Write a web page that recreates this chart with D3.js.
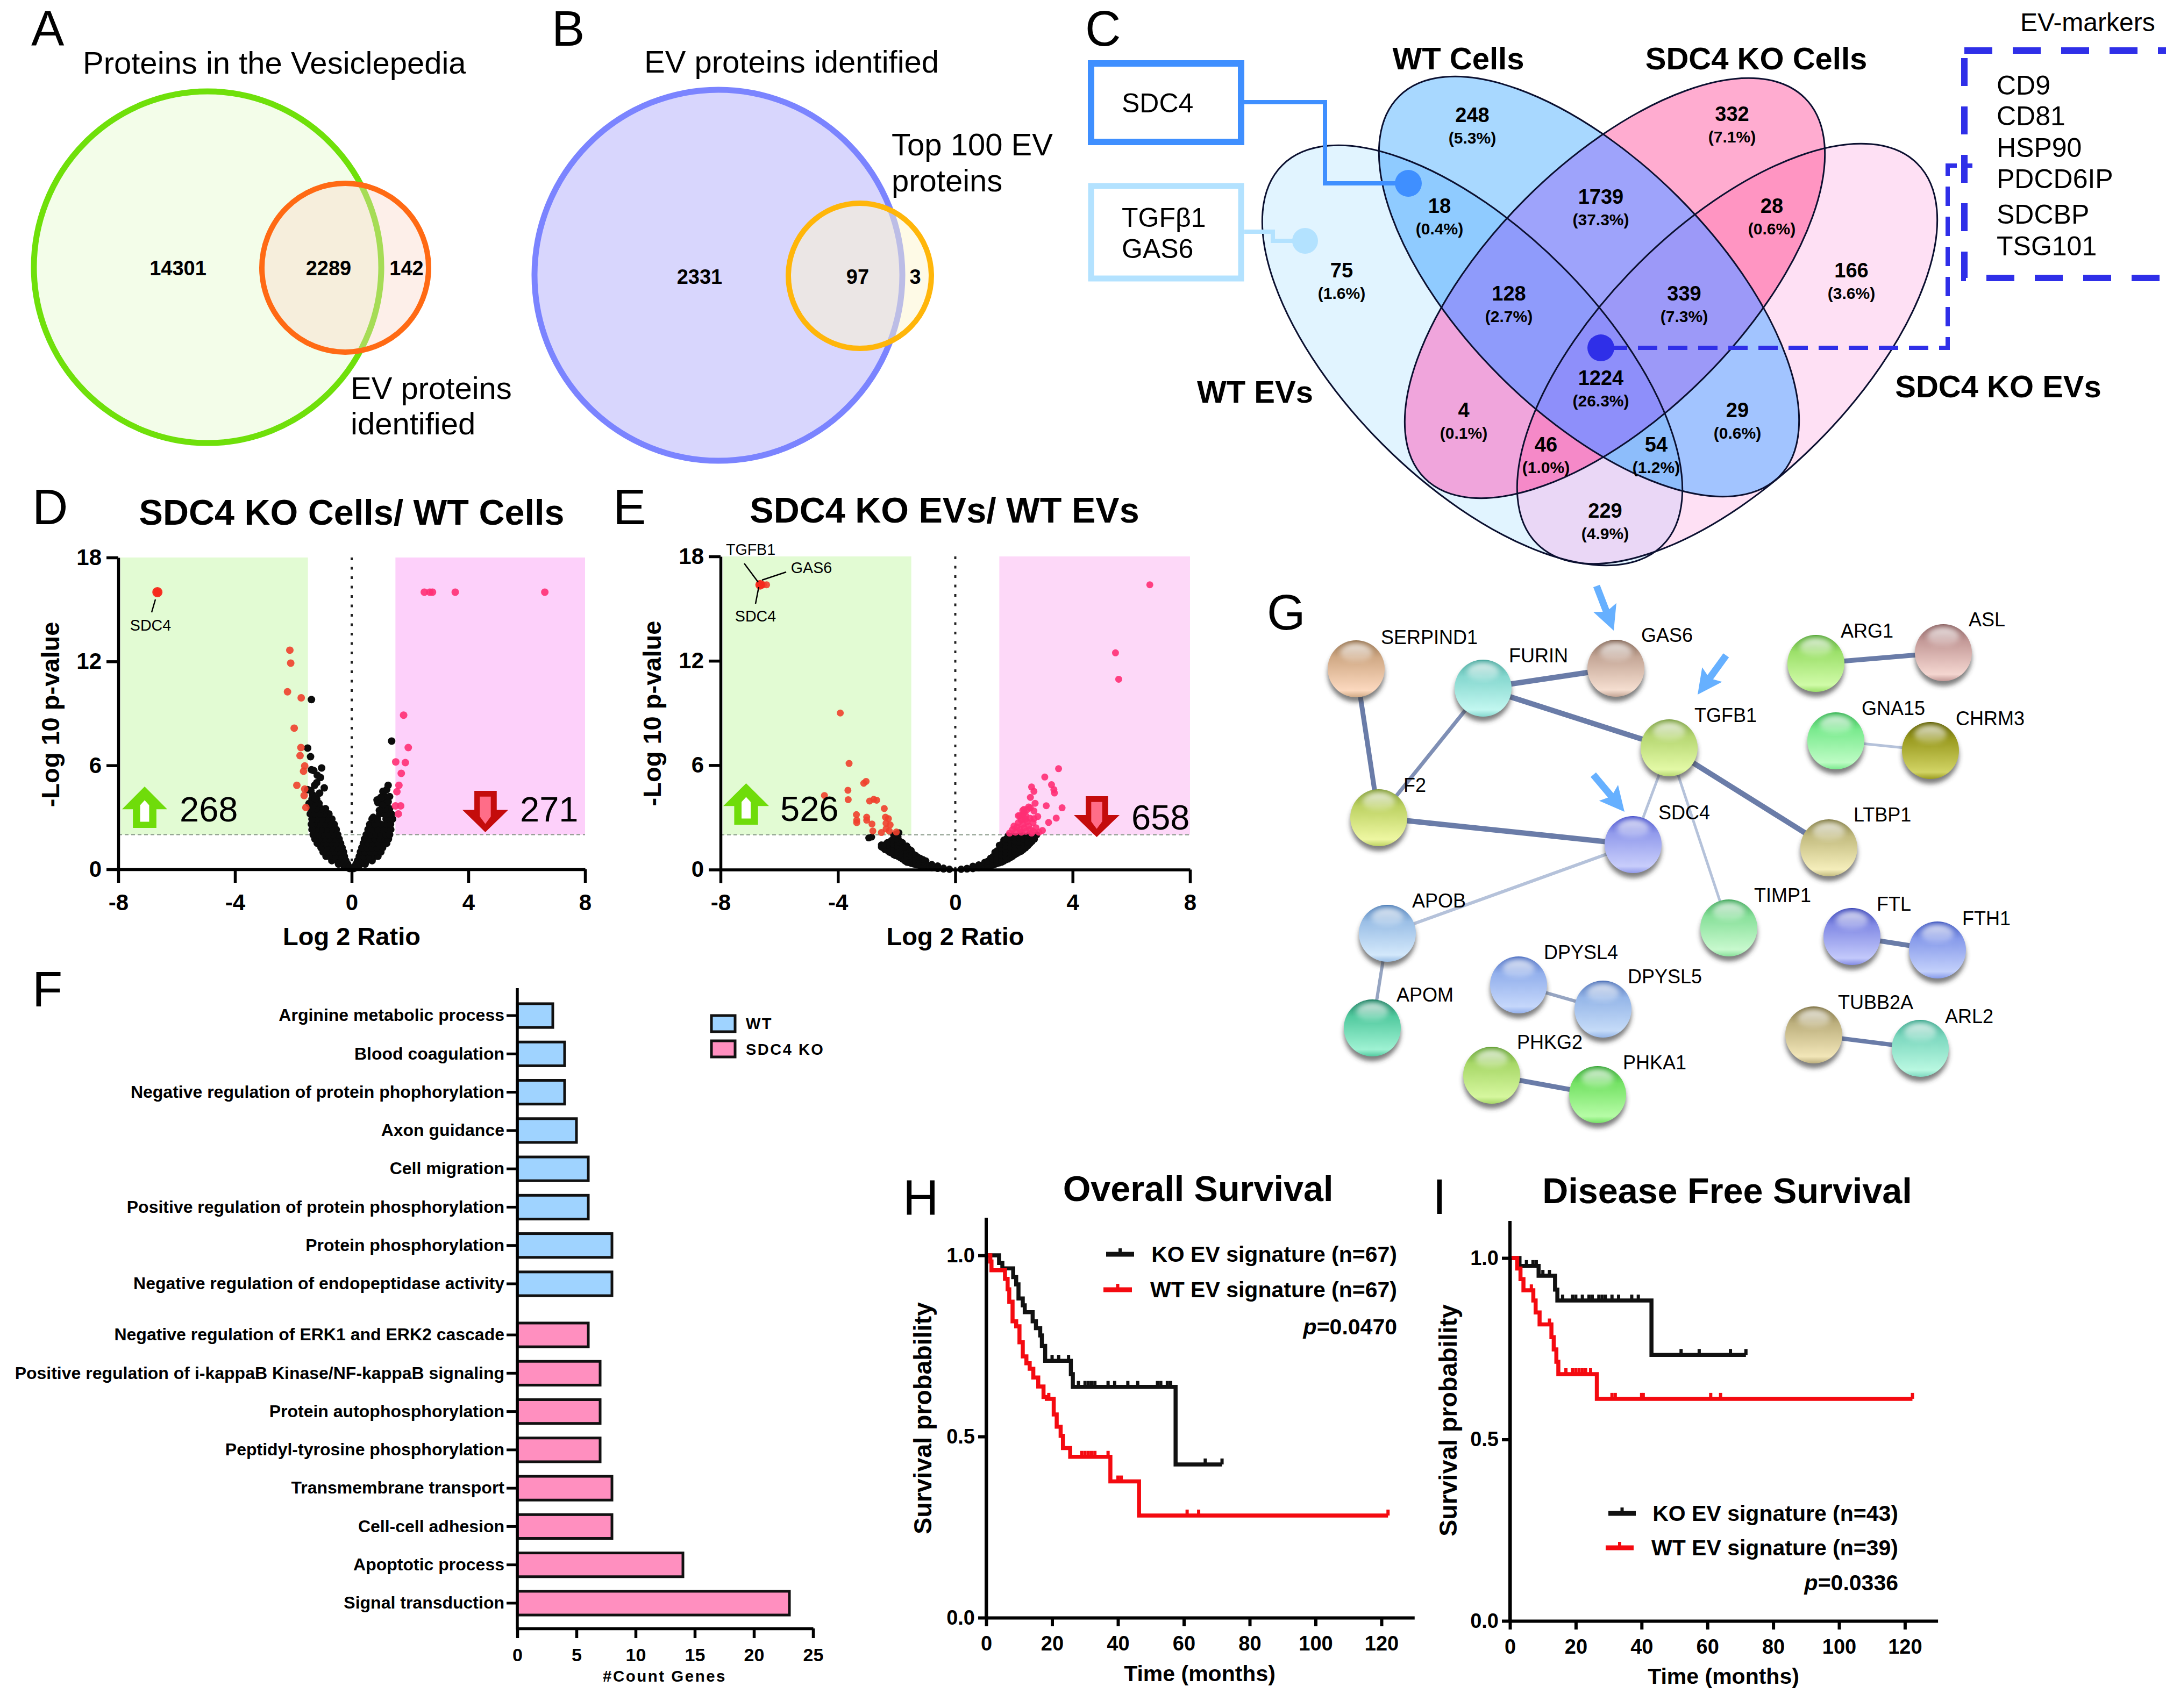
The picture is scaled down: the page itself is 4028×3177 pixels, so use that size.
<!DOCTYPE html>
<html><head><meta charset="utf-8">
<script src="https://cdn.jsdelivr.net/npm/d3@7"></script>
<style>
html,body{margin:0;padding:0;background:#fff}
svg{display:block}
text{font-family:"Liberation Sans",Arial,sans-serif;fill:#000}
</style></head><body><svg id="fig" width="4028" height="3177" viewBox="0 0 4028 3177"></svg>
<script>
/* ---------- Panel A / B ---------- */
const vennANumbers = ["14301","2289","142"];
const vennBNumbers = ["2331","97","3"];

/* ---------- Panel C ---------- */
const vennSetNames = ["WTE","KOE","WTC","KOC"];
const vennRegionColors = {
  "WTE":"#e1f4ff","KOE":"#fee0f4","WTC":"#a8d8ff","KOC":"#ffacd0",
  "WTC+KOC":"#9ea3fb","WTE+WTC":"#8fcbff","KOE+KOC":"#ff95c2","WTE+KOE":"#ead7f6",
  "WTE+KOC":"#f0a5dc","KOE+WTC":"#a2c4ff","WTE+WTC+KOC":"#8f9bfb","KOE+WTC+KOC":"#9c99f8",
  "WTE+KOE+KOC":"#f589c8","WTE+KOE+WTC":"#8dbdfb","WTE+KOE+WTC+KOC":"#8e8ffa"
};
const vennRegionCounts = ["248","332","18","1739","28","75","128","339","166","1224","4","29","46","54","229"];
const vennRegionPercents = ["(5.3%)","(7.1%)","(0.4%)","(37.3%)","(0.6%)","(1.6%)","(2.7%)","(7.3%)","(3.6%)","(26.3%)","(0.1%)","(0.6%)","(1.0%)","(1.2%)","(4.9%)"];
const evMarkers = ["CD9","CD81","HSP90","PDCD6IP","SDCBP","TSG101"];

/* ---------- Panel D : volcano, KO cells / WT cells ---------- */
const dBlackLeftRows = [
 [.05,-.08],[.15,-.1,-.25],[.3,-.14,-.3,-.45],[.5,-.2,-.35,-.5,-.68],[.75,-.25,-.4,-.58,-.78,-.88],
 [1,-.28,-.45,-.62,-.8,-.98],[1.25,-.33,-.5,-.68,-.86,-1.05],[1.5,-.38,-.55,-.72,-.9,-1.08,-1.18],
 [1.75,-.43,-.6,-.78,-.95,-1.12,-1.26],[2,-.48,-.65,-.82,-1,-1.16,-1.32],[2.3,-.53,-.7,-.88,-1.05,-1.22,-1.36],
 [2.6,-.6,-.78,-.94,-1.12,-1.3,-1.38],[2.9,-.68,-.85,-1.02,-1.2,-1.36],[3.2,-.78,-.95,-1.1,-1.28,-1.42],
 [3.5,-.9,-1.05,-1.22,-1.38],[3.8,-1.12,-1.28,-1.46],[4.05,-1.2,-1.36]];
const dBlackRightRows = [
 [.05,.08],[.15,.11,.24],[.3,.15,.3,.46],[.5,.2,.36,.52,.7],[.75,.26,.42,.6,.8,.9],
 [1,.3,.46,.64,.82,1],[1.25,.35,.52,.7,.88,1.06],[1.5,.4,.56,.74,.92,1.1,1.2],
 [1.75,.44,.62,.8,.98,1.14,1.26],[2,.5,.66,.84,1.02,1.18,1.3],[2.3,.56,.72,.9,1.1,1.24,1.34],
 [2.6,.62,.8,1.0,1.2,1.33],[2.9,.7,.88,1.18,1.3,1.4],[3.2,.96,1.1,1.2,1.36],[3.5,1.04,1.16,1.3],[3.8,1.2,1.1]];
const dBlackOutliers = [[-1.38,9.8],[-1.51,7],[-1.41,6.5],[-1.03,5.85],[-1.38,5.75],[-1.3,5.7],[-1.18,5.43],[-1.07,5.3],[-.94,4.7],
 [-1.27,4.85],[-1.51,4.6],[-1.34,4.3],[-1.2,5],[-1.1,4.4],[-1.25,4.1],[-1.4,4.55],[1.37,7.4],[1.25,4.85],[1.07,4.5],[1.2,4.6],[.87,4],[.9,3.85],[1.2,3.75],[1.14,3.5],[.74,3],
 [1.15,4.2],[1,4.15],[1.3,4.2],[1.25,3.9],[1.05,3.7],[.95,3.4]];
const dUp = [[-6.66,16],[-2.12,12.65],[-2.09,11.9],[-2.2,10.25],[-1.73,9.9],[-1.97,8.15],[-1.74,7.03],[-1.77,6.56],[-1.61,5.97],
 [-1.65,5.66],[-1.88,4.85],[-1.61,4.63],[-1.63,4.26],[-1.57,3.57]];
const dDown = [[2.49,16],[2.68,16],[2.77,16],[3.55,16],[6.62,16],[1.78,8.9],[1.94,7.03],[1.51,6.2],[1.84,6.16],[1.7,5.54],[1.62,4.85],
 [1.55,4.48],[1.5,3.66],[1.68,3.66],[1.6,3.2]];

/* ---------- Panel E : volcano, KO EVs / WT EVs ---------- */
const eBlackLeftCols = [
 [-.2,.01,.03],[-.4,.03,.09],[-.6,.06,.14,.22],[-.8,.1,.2,.3],[-1,.15,.27,.4,.5],[-1.2,.22,.36,.5,.66],[-1.35,.28,.45,.62,.82],
 [-1.5,.35,.52,.72,.92,1.1],[-1.65,.42,.6,.82,1.02,1.22,1.36],[-1.8,.6,.75,.95,1.15,1.35,1.55],[-1.95,.75,.9,1.1,1.3,1.5,1.7,1.88],
 [-2.1,.85,1,1.22,1.42,1.62,1.8,1.98],[-2.25,1,1.15,1.3,1.5],[-2.4,1.15,1.3,1.42],[-2.52,1.3,1.42],
 [-1.1,.2,.32,.45,.58],[-1.28,.26,.4,.56,.72],[-1.42,.32,.5,.68,.88],[-1.58,.4,.58,.78,.98,1.18],[-1.72,.5,.7,.9,1.1,1.3],[-1.88,.68,.85,1.02,1.22,1.42,1.62],
 [-2.03,.8,.95,1.15,1.35,1.55,1.75,1.95],[-2.18,.95,1.1,1.28,1.45,1.68],[-2.32,1.1,1.25,1.4,1.55],[-2.46,1.25,1.4]];
const eBlackRightCols = [
 [.2,.01,.03],[.4,.03,.08],[.6,.05,.12,.2],[.8,.1,.18,.28],[1,.15,.28,.42],[1.2,.22,.36,.52,.66],[1.35,.3,.48,.65,.85,1],
 [1.5,.38,.55,.75,.95,1.15,1.4],[1.65,.48,.68,.88,1.1,1.3,1.5,1.7],[1.8,.6,.8,1,1.2,1.4,1.6,1.8,1.95],[1.95,.75,.95,1.15,1.35,1.55,1.75,1.95],
 [2.1,.92,1.1,1.3,1.5,1.7,1.9],[2.25,1.05,1.25,1.45,1.65,1.85,2],[2.4,1.25,1.45,1.65,1.85],[2.55,1.5,1.7,1.85,2],[2.7,1.75,1.92],[2.78,2],
 [1.1,.18,.32,.48],[1.28,.25,.42,.6,.75],[1.42,.34,.52,.7,.9,1.08],[1.58,.42,.62,.82,1.02,1.22,1.45],[1.72,.55,.75,.95,1.15,1.35,1.55,1.75],[1.88,.68,.88,1.08,1.28,1.48,1.68,1.88],
 [2.03,.85,1.02,1.22,1.42,1.62,1.82],[2.18,1,1.18,1.38,1.58,1.78,1.95],[2.32,1.15,1.35,1.55,1.75,1.95],[2.48,1.38,1.58,1.78,1.95],[2.62,1.62,1.8,1.95]];
const eBlackOutliers = [[-2.95,1.82],[-2.85,1.87],[-2,2.05],[-1.92,2.12]];
const eUp = [[-6.65,16.37],[-6.54,16.37],[-6.43,16.37],[-3.92,9],[-3.62,6.1],[-3.12,4.96],[-3.04,5.07],[-3.66,4.56],[-4.46,4.26],[-3.65,4.02],
 [-2.92,3.94],[-2.78,4.04],[-2.68,3.99],[-2.42,3.51],[-3.37,3.16],[-3.36,2.84],[-3.36,2.7],[-3.02,3.01],[-3.02,2.84],[-2.84,2.62],[-2.38,3.01],
 [-2.28,2.93],[-2.36,2.66],[-2.22,2.57],[-2.36,2.34],[-2.52,2.13],[-2.81,2.22],[-2.01,2.16],[-2.25,2.22]];
const eDown = [[6.63,16.37],[5.46,12.46],[5.57,10.94],[3.52,5.8],[3.05,5.32],[3.28,4.88],[2.6,4.75],[2.68,4.5],[3.36,4.6],[3.38,4.4],[2.56,4.15],
 [2.72,3.81],[3.1,3.67],[3.64,3.55],[2.56,3.55],[2.68,3.37],[2.34,3.46],[2.81,3.05],[2.68,2.93],[3.44,2.96],[3.18,2.71],[2.97,2.25],
 [1.85,2.1],[1.95,2.3],[2.05,2.15],[2.1,2.45],[2.2,2.3],[2.25,2.15],[2.3,2.6],[2.35,2.4],[2.4,2.2],[2.45,2.75],[2.5,2.5],[2.55,2.3],[2.6,2.1],
 [2.3,2.9],[2.2,3.1],[2.3,3.15],[2.4,3.1],[2.35,3.3],[2.45,3.45],[2.15,2.7],[2,2.5],[2.25,2.85],[2.65,2.7],[2.75,2.4],[2.4,2.9],[2.55,2.95],
 [2.15,3.1],[2.3,3.4],[2.5,3.6],[2.65,2.2],[2.85,2.15]];

/* ---------- Panel F ---------- */
const fWtTerms = ["Arginine metabolic process","Blood coagulation","Negative regulation of protein phophorylation","Axon guidance","Cell migration",
 "Positive regulation of protein phosphorylation","Protein phosphorylation","Negative regulation of endopeptidase activity"];
const fWtCounts = [3,4,4,5,6,6,8,8];
const fKoTerms = ["Negative regulation of ERK1 and ERK2 cascade","Positive regulation of i-kappaB Kinase/NF-kappaB signaling","Protein autophosphorylation",
 "Peptidyl-tyrosine phosphorylation","Transmembrane transport","Cell-cell adhesion","Apoptotic process","Signal transduction"];
const fKoCounts = [6,7,7,7,8,8,14,23];

/* ---------- Panel G ---------- */
const gNodes = ["SERPIND1","FURIN","GAS6","TGFB1","F2","SDC4","LTBP1","APOB","TIMP1","APOM","DPYSL4","DPYSL5","PHKG2","PHKA1","ARG1","ASL","GNA15","CHRM3","FTL","FTH1","TUBB2A","ARL2"];
const gEdges = [["SERPIND1","F2",9,"d"],["FURIN","GAS6",10,"d"],["FURIN","TGFB1",10,"d"],["FURIN","F2",7,"d2"],["F2","SDC4",10,"d"],["TGFB1","SDC4",5,"l"],
 ["TGFB1","LTBP1",10,"d"],["TGFB1","TIMP1",5,"l"],["SDC4","APOB",6,"l"],["APOB","APOM",6,"m"],["DPYSL4","DPYSL5",6,"m"],["PHKG2","PHKA1",9,"d"],
 ["ARG1","ASL",9,"d"],["GNA15","CHRM3",5,"l"],["FTL","FTH1",9,"d"],["TUBB2A","ARL2",8,"d"]];

/* ---------- Panels H / I : Kaplan-Meier ---------- */
const hKo = [[0,1],[3.9,.979],[4.9,.964],[8.2,.94],[9.1,.92],[9.8,.881],[11.1,.862],[11.7,.843],[14.1,.818],[15.1,.799],[16.4,.779],[16.9,.75],[17.9,.709],[25.7,.672],[26.3,.637],[57.5,.423],[71.6,.423]];
const hWt = [[0,1],[1.25,.983],[1.6,.959],[5.7,.935],[6.5,.906],[7,.872],[8,.818],[9.1,.804],[10.1,.76],[11.1,.721],[12.2,.702],[13.2,.687],[14.3,.663],[15.8,.638],[17.4,.609],[18.4,.604],[20.5,.561],[21.4,.527],[22.6,.502],[23.3,.468],[25.5,.444],[37.7,.376],[46.4,.282],[122,.282]];
const hKoCens = [[20,.709],[22,.709],[25,.709],[28,.637],[30,.637],[31,.637],[32,.637],[33,.637],[37,.637],[39,.637],[43,.637],[46,.637],[52,.637],[53,.637],[55,.637],[56,.637],[66.5,.423],[71.6,.423]];
const hWtCens = [[19,.604],[29,.444],[30,.444],[31,.444],[32,.444],[33,.444],[37,.444],[40,.376],[41,.376],[61,.282],[64.5,.282],[122,.282]];
const iKo = [[0,1],[2.9,.978],[8.7,.951],[13.7,.913],[14.4,.883],[43,.733],[71.7,.733]];
const iWt = [[0,1],[2.2,.971],[3.2,.942],[4.1,.911],[7.1,.883],[7.8,.85],[9,.817],[12.6,.782],[13.3,.748],[14.1,.714],[14.7,.68],[26.4,.612],[122.3,.612]];
const iKoCens = [[5,.978],[7,.978],[8,.978],[10,.951],[12,.951],[16,.883],[19,.883],[20,.883],[22,.883],[24,.883],[25,.883],[27,.883],[28,.883],[29,.883],[31,.883],[33,.883],[37,.883],[39,.883],[52,.733],[57.5,.733],[67,.733],[71.7,.733]];
const iWtCens = [[6.5,.911],[12,.817],[17,.68],[19,.68],[20,.68],[21,.68],[22,.68],[23,.68],[24.5,.68],[31,.612],[32,.612],[40,.612],[40.5,.612],[61,.612],[64,.612],[122.3,.612]];

/* ================ drawing ================ */
const svg = d3.select("#fig");
const defs = svg.append("defs");
svg.append("rect").attr("width",4028).attr("height",3177).attr("fill","#fff");

function txt(p,s,x,y,size,o={}){
  const t=p.append("text").attr("x",x).attr("y",y).attr("font-size",size).text(s)
    .attr("text-anchor",o.anchor||"start").attr("dominant-baseline",o.base||"auto");
  if(o.bold) t.attr("font-weight","bold");
  if(o.rot!==undefined) t.attr("transform",`rotate(${o.rot} ${x} ${y})`);
  if(o.ls) t.attr("letter-spacing",o.ls);
  return t;
}
function panelLetter(s,x,y){ txt(svg,s,x,y,92); }
[["A",58,85],["B",1026,85],["C",2018,85],["D",60,975],["E",1140,975],["F",60,1872],["G",2356,1171],["H",1679,2260],["I",2664,2258]].forEach(d=>panelLetter(...d));

/* ---- A ---- */
function ell(p,cx,cy,rx,ry,fill,fo,stroke,sw){
  return p.append("ellipse").attr("cx",cx).attr("cy",cy).attr("rx",rx).attr("ry",ry)
   .attr("fill",fill).attr("fill-opacity",fo).attr("stroke",stroke).attr("stroke-width",sw);
}
ell(svg,386,497,323,327,"#f3fde9",1,"#6fe00a",11);
ell(svg,642,498,155,157,"#f9d8c8",.4,"none",0);
ell(svg,642,498,155,157,"none",0,"#ff6a14",10);
txt(svg,"Proteins in the Vesiclepedia",154,137,58);
txt(svg,"EV proteins",652,742,58); txt(svg,"identified",652,808,58);
[[331,vennANumbers[0]],[611,vennANumbers[1]],[756,vennANumbers[2]]].forEach(d=>txt(svg,d[1],d[0],499,38,{anchor:"middle",base:"central",bold:1}));
/* ---- B ---- */
ell(svg,1336,512,342,345,"#d8d6fd",1,"#7b84ff",11);
ell(svg,1599,513,133,135,"#fef6cd",.5,"none",0);
ell(svg,1599,513,133,135,"none",0,"#ffb60a",10);
txt(svg,"EV proteins identified",1198,135,58);
txt(svg,"Top 100 EV",1658,289,58); txt(svg,"proteins",1658,356,58);
[[1301,vennBNumbers[0]],[1595,vennBNumbers[1]],[1702,vennBNumbers[2]]].forEach(d=>txt(svg,d[1],d[0],515,38,{anchor:"middle",base:"central",bold:1}));

/* ---- C ---- */
const vennGeom = {WTE:{cx:2738,cy:661,rot:45},KOE:{cx:3212,cy:658,rot:-45},WTC:{cx:2955,cy:533,rot:45},KOC:{cx:3003,cy:536,rot:-45}};
const vennA=500, vennB=235;
vennSetNames.forEach(n=>{
  const g=vennGeom[n];
  defs.append("clipPath").attr("id","clip"+n).append("ellipse").attr("rx",vennA).attr("ry",vennB)
    .attr("transform",`translate(${g.cx} ${g.cy}) rotate(${g.rot})`);
});
const gC=svg.append("g");
Object.keys(vennRegionColors).sort((a,b)=>a.split("+").length-b.split("+").length).forEach(k=>{
  let p=gC; k.split("+").forEach(n=>{p=p.append("g").attr("clip-path",`url(#clip${n})`);});
  p.append("rect").attr("x",2300).attr("y",100).attr("width",1400).attr("height",1000).attr("fill",vennRegionColors[k]);
});
vennSetNames.forEach(n=>{
  const g=vennGeom[n];
  gC.append("ellipse").attr("rx",vennA).attr("ry",vennB).attr("transform",`translate(${g.cx} ${g.cy}) rotate(${g.rot})`)
   .attr("fill","none").attr("stroke","#0b1030").attr("stroke-width",3);
});
const vennLabelXY=[[2738,214],[3221,212],[2677,383],[2977,366],[3295,383],[2495,503],[2806,546],[3132,546],[3443,503],[2977,703],[2722,763],[3231,763],[2875,827],[3080,827],[2985,950]];
vennLabelXY.forEach((d,i)=>{
  txt(svg,vennRegionCounts[i],d[0],d[1],38,{anchor:"middle",base:"central",bold:1});
  txt(svg,vennRegionPercents[i],d[0],d[1]+42,30,{anchor:"middle",base:"central",bold:1});
});
[["WT Cells",2712,108],["SDC4 KO Cells",3266,108],["WT EVs",2334,728],["SDC4 KO EVs",3716,718]].forEach(d=>txt(svg,d[0],d[1],d[2],58,{anchor:"middle",base:"central",bold:1}));
const cBlue="#3f8fff", cLight="#b3e2ff", cNavy="#2f2fe8";
svg.append("rect").attr("x",2029).attr("y",118).attr("width",279).attr("height",146).attr("fill","#fff").attr("stroke",cBlue).attr("stroke-width",12);
svg.append("rect").attr("x",2029).attr("y",346).attr("width",279).attr("height",172).attr("fill","#fff").attr("stroke",cLight).attr("stroke-width",11);
const ln=(pts)=>d3.line()(pts);
svg.append("path").attr("d",ln([[2314,190],[2464,190],[2464,341],[2619,341]])).attr("fill","none").attr("stroke",cBlue).attr("stroke-width",8);
svg.append("circle").attr("cx",2619).attr("cy",341).attr("r",25).attr("fill",cBlue);
svg.append("path").attr("d",ln([[2314,431],[2367,431],[2367,448],[2427,448]])).attr("fill","none").attr("stroke",cLight).attr("stroke-width",8);
svg.append("circle").attr("cx",2427).attr("cy",448).attr("r",24).attr("fill",cLight);
txt(svg,"SDC4",2086,192,50,{base:"central"});
txt(svg,"TGFβ1",2086,405,50,{base:"central"});
txt(svg,"GAS6",2086,463,50,{base:"central"});
svg.append("circle").attr("cx",2977).attr("cy",647).attr("r",25).attr("fill",cNavy);
svg.append("path").attr("d",ln([[2990,647],[3622,647],[3622,308],[3668,308]])).attr("fill","none").attr("stroke",cNavy).attr("stroke-width",8).attr("stroke-dasharray","36 20");
svg.append("rect").attr("x",3653).attr("y",94).attr("width",420).attr("height",423).attr("fill","none").attr("stroke",cNavy).attr("stroke-width",12).attr("stroke-dasharray","52 38");
txt(svg,"EV-markers",3757,41,48,{base:"central"});
[159,216,275,333,399,458].forEach((y,i)=>txt(svg,evMarkers[i],3713,y,50,{base:"central"}));

/* ---- D / E volcano ---- */
function arrowUp(p,x,y,w,h,c,inner){
  const q=(a,b)=>[x+a*w,y+b*h];
  p.append("path").attr("d",ln([q(.5,0),q(1,.55),q(.76,.55),q(.76,1),q(.24,1),q(.24,.55),q(0,.55)])+"Z").attr("fill",c);
  p.append("path").attr("d",ln([q(.5,.33),q(.6,.45),q(.6,.85),q(.4,.85),q(.4,.45)])+"Z").attr("fill",inner);
}
function arrowDown(p,x,y,w,h,c,inner){
  const q=(a,b)=>[x+a*w,y+b*h];
  p.append("path").attr("d",ln([q(.5,1),q(1,.46),q(.75,.46),q(.75,0),q(.26,0),q(.26,.46),q(0,.46)])+"Z").attr("fill",c);
  p.append("path").attr("d",ln([q(.5,.8),q(.62,.62),q(.62,.14),q(.38,.14),q(.38,.62)])+"Z").attr("fill",inner);
}
function styleAxis(g,size,sw){
  g.selectAll("text").attr("font-size",size).attr("font-weight","bold").attr("fill","#000");
  g.selectAll("line").attr("stroke","#000").attr("stroke-width",sw);
  g.selectAll("path.domain").attr("stroke","#000").attr("stroke-width",sw);
}
function volcano(o){
  const x=d3.scaleLinear().domain([-8,8]).range([o.x0,o.x1]);
  const y=d3.scaleLinear().domain([0,18]).range([o.y0,o.y1]);
  const g=svg.append("g");
  g.append("rect").attr("x",x(-8)+4).attr("y",y(18)).attr("width",x(-1.5)-x(-8)-4).attr("height",y(2)-y(18)).attr("fill",o.green);
  g.append("rect").attr("x",x(1.5)).attr("y",y(18)).attr("width",x(8)-x(1.5)).attr("height",y(2)-y(18)).attr("fill",o.pink);
  g.append("line").attr("x1",x(-8)).attr("x2",x(8)).attr("y1",y(2)).attr("y2",y(2)).attr("stroke","#8a9a8a").attr("stroke-width",2).attr("stroke-dasharray","7 5");
  g.append("line").attr("x1",x(0)).attr("x2",x(0)).attr("y1",y(18)).attr("y2",y(0)).attr("stroke","#222").attr("stroke-width",4).attr("stroke-dasharray","5 12.5");
  const dots=(data,c,r,op)=>g.append("g").selectAll("circle").data(data).join("circle")
    .attr("cx",d=>x(d[0])).attr("cy",d=>y(d[1])).attr("r",r).attr("fill",c).attr("fill-opacity",op);
  dots(o.black,"#0c0c0c",o.r,1);
  dots(o.up,"#f0402c",o.r,.9);
  dots(o.hit,"#f6281a",o.r+2.5,.95);
  dots(o.down,"#ff2f74",o.r,.9);
  const ax=g.append("g").attr("transform",`translate(0,${y(0)})`).call(d3.axisBottom(x).tickValues([-8,-4,0,4,8]).tickFormat(d=>String(d)).tickSize(25).tickSizeOuter(0).tickPadding(21));
  const ay=g.append("g").attr("transform",`translate(${x(-8)},0)`).call(d3.axisLeft(y).tickValues([0,6,12,18]).tickFormat(d=>String(d)).tickSize(22).tickSizeOuter(0).tickPadding(9));
  styleAxis(ax,42,5.5); styleAxis(ay,42,5.5);
  txt(svg,o.title,(o.x0+o.x1)/2+o.titleDx,o.titleY,66.5,{anchor:"middle",base:"central",bold:1});
  txt(svg,"Log 2 Ratio",x(0),1741,47,{anchor:"middle",base:"central",bold:1});
  txt(svg,"-Log 10 p-value",o.ylx,o.yly,47,{anchor:"middle",base:"central",bold:1,rot:-90});
  return {x,y};
}
const rowsToPts = rows=>rows.flatMap(r=>r.slice(1).map(v=>[v,r[0]]));
const colsToPts = cols=>cols.flatMap(c=>c.slice(1).map(v=>[c[0],v]));
volcano({x0:220,x1:1088,y0:1617,y1:1037,green:"#e2fbd3",pink:"#fdd0fa",r:7,
  black:[...rowsToPts(dBlackLeftRows),...rowsToPts(dBlackRightRows),...dBlackOutliers],up:dUp,hit:[dUp[0]],down:dDown,
  title:"SDC4 KO Cells/ WT Cells",titleDx:0,titleY:953,ylx:93,yly:1329});
arrowUp(svg,227,1463,84,77,"#6fdc0a","#fff");
arrowDown(svg,860,1471,85,77,"#c40c0c","#ff6d88");
txt(svg,"268",334,1505,65,{base:"central"}); txt(svg,"271",967,1505,65,{base:"central"});
txt(svg,"SDC4",280,1163,28.6,{anchor:"middle",base:"central"});
svg.append("line").attr("x1",289).attr("y1",1115).attr("x2",282).attr("y2",1139).attr("stroke","#000").attr("stroke-width",2.5);

volcano({x0:1340,x1:2213,y0:1617.5,y1:1035,green:"#e2fbd3",pink:"#fdd8f8",r:6.5,
  black:[...colsToPts(eBlackLeftCols),...colsToPts(eBlackRightCols),...eBlackOutliers],up:eUp,hit:[eUp[0]],down:eDown,
  title:"SDC4 KO EVs/ WT EVs",titleDx:-20,titleY:949,ylx:1212,yly:1327});
arrowUp(svg,1345,1457,85,77,"#6fdc0a","#fff");
arrowDown(svg,1997,1481,85,76,"#c40c0c","#ff6d88");
txt(svg,"526",1451,1504,65,{base:"central"}); txt(svg,"658",2104,1520,65,{base:"central"});
txt(svg,"TGFB1",1396,1022,28.6,{anchor:"middle",base:"central"});
txt(svg,"GAS6",1509,1056,28.6,{anchor:"middle",base:"central"});
txt(svg,"SDC4",1405,1146,28.6,{anchor:"middle",base:"central"});
[[1384,1048,1410,1083],[1462,1064,1417,1079],[1411,1092,1405,1123]].forEach(d=>svg.append("line").attr("x1",d[0]).attr("y1",d[1]).attr("x2",d[2]).attr("y2",d[3]).attr("stroke","#000").attr("stroke-width",2.5));

/* ---- F ---- */
(function(){
  const g=svg.append("g");
  const x=d3.scaleLinear().domain([0,25]).range([962,1512]);
  const yWt=d3.scaleBand().domain(fWtTerms).range([1853.4,2423.6]).paddingInner(.38).paddingOuter(.19);
  const yKo=d3.scaleBand().domain(fKoTerms).range([2447.4,3017.6]).paddingInner(.38).paddingOuter(.19);
  const bars=(terms,counts,sc,c)=>g.append("g").selectAll("rect").data(terms).join("rect")
    .attr("x",x(0)).attr("y",d=>sc(d)).attr("height",sc.bandwidth()).attr("width",(d,i)=>x(counts[i])-x(0))
    .attr("fill",c).attr("stroke","#111").attr("stroke-width",5);
  bars(fWtTerms,fWtCounts,yWt,"#9fd3ff"); bars(fKoTerms,fKoCounts,yKo,"#ff8fbf");
  [yWt,yKo].forEach(sc=>{
    const a=g.append("g").attr("transform","translate(962,0)").call(d3.axisLeft(sc).tickSize(20).tickSizeOuter(0).tickPadding(4));
    styleAxis(a,32,5); a.select("path.domain").remove();
  });
  g.append("line").attr("x1",962).attr("x2",962).attr("y1",1838).attr("y2",3031).attr("stroke","#000").attr("stroke-width",5.5);
  const ax=g.append("g").attr("transform","translate(0,3029)").call(d3.axisBottom(x).tickValues([0,5,10,15,20,25]).tickSize(18).tickSizeOuter(0).tickPadding(19));
  styleAxis(ax,34,5.5);
  txt(svg,"#Count Genes",1236,3117,29.5,{anchor:"middle",base:"central",bold:1,ls:2.5});
  [[1889,"#9fd3ff","WT",1904],[1936,"#ff8fbf","SDC4 KO",1952]].forEach(d=>{
    svg.append("rect").attr("x",1323).attr("y",d[0]).attr("width",44).attr("height",30).attr("fill",d[1]).attr("stroke","#111").attr("stroke-width",5);
    txt(svg,d[2],1387,d[3],29,{base:"central",bold:1,ls:2.5});
  });
})();

/* ---- G ---- */
const gNodeXY={SERPIND1:[2522,1244],FURIN:[2758,1280],GAS6:[3005,1243],TGFB1:[3104,1391],F2:[2564,1521],SDC4:[3037,1571],LTBP1:[3401,1577],APOB:[2580,1736],TIMP1:[3215,1726],APOM:[2552,1912],DPYSL4:[2824,1832],DPYSL5:[2981,1877],PHKG2:[2774,2000],PHKA1:[2971,2036],ARG1:[3377,1234],ASL:[3614,1214],GNA15:[3414,1378],CHRM3:[3590,1396],FTL:[3444,1742],FTH1:[3603,1767],TUBB2A:[3373,1925],ARL2:[3571,1950]};
const gLabelXY={SERPIND1:[2568,1185],FURIN:[2806,1219],GAS6:[3052,1181],TGFB1:[3151,1330],F2:[2610,1460],SDC4:[3084,1511],LTBP1:[3447,1515],APOB:[2626,1675],TIMP1:[3262,1665],APOM:[2597,1850],DPYSL4:[2871,1771],DPYSL5:[3027,1816],PHKG2:[2821,1938],PHKA1:[3018,1976],ARG1:[3423,1173],ASL:[3661,1152],GNA15:[3462,1317],CHRM3:[3637,1336],FTL:[3490,1681],FTH1:[3649,1708],TUBB2A:[3418,1864],ARL2:[3617,1890]};
const gNodeColors={SERPIND1:["#96734f","#d0a985","#fcd9bf"],FURIN:["#4aa89e","#86d8cf","#c2f7f0"],GAS6:["#846858","#c4a696","#f5ded0"],TGFB1:["#7da044","#b6d772","#e3f9a6"],F2:["#829c38","#bdd263","#eef7a2"],SDC4:["#4750cc","#929bec","#c8cdfb"],LTBP1:["#827c45","#c3bc80","#f5eebb"],APOB:["#4f7fb8","#9bbfe6","#d3e8fb"],TIMP1:["#42a85c","#88e09a","#c8f9ce"],APOM:["#1e7f62","#52ca9f","#9ff2d3"],DPYSL4:["#4f70c2","#93b0ec","#c5d7fb"],DPYSL5:["#4f72b8","#95b6e8","#c5dbf8"],PHKG2:["#64a035","#a8d868","#d6f79f"],PHKA1:["#35a535","#75e265","#b6fca6"],ARG1:["#56a838","#9ce06a","#d0fba8"],ASL:["#8a6060","#c49a98","#f4d6d0"],GNA15:["#35b452","#7aea8e","#bdfcc4"],CHRM3:["#5e5e00","#9a9b20","#d2d465"],FTL:["#3a45b8","#838be5","#c3c9fb"],FTH1:["#4259c0","#869aea","#c3d0fb"],TUBB2A:["#7f7344","#bdb07e","#f2e6b8"],ARL2:["#3fa88e","#7dd8bf","#b9f8e1"]};
const gEdgeCol={d:"#6a7ca8",d2:"#7f8fb5",m:"#96a5c2",l:"#b5c2da"};
(function(){
  const g=svg.append("g");
  g.append("g").selectAll("line").data(gEdges).join("line")
   .attr("x1",d=>gNodeXY[d[0]][0]).attr("y1",d=>gNodeXY[d[0]][1]).attr("x2",d=>gNodeXY[d[1]][0]).attr("y2",d=>gNodeXY[d[1]][1])
   .attr("stroke",d=>gEdgeCol[d[3]]).attr("stroke-width",d=>d[2]);
  defs.append("filter").attr("id","blur").append("feGaussianBlur").attr("stdDeviation",4);
  defs.append("filter").attr("id","blur2").append("feGaussianBlur").attr("stdDeviation",5);
  const wgrad=defs.append("linearGradient").attr("id","gloss").attr("x1",0).attr("x2",0).attr("y1",0).attr("y2",1);
  wgrad.append("stop").attr("offset",0).attr("stop-color","#fff").attr("stop-opacity",.85);
  wgrad.append("stop").attr("offset",1).attr("stop-color","#fff").attr("stop-opacity",.15);
  gNodes.forEach(n=>{
    const [cx,cy]=gNodeXY[n], c=gNodeColors[n];
    const gr=defs.append("linearGradient").attr("id","nd"+n).attr("x1",0).attr("x2",0).attr("y1",0).attr("y2",1);
    gr.append("stop").attr("offset",0).attr("stop-color",c[0]);
    gr.append("stop").attr("offset",.3).attr("stop-color",c[1]);
    gr.append("stop").attr("offset",.88).attr("stop-color",c[2]);
    gr.append("stop").attr("offset",1).attr("stop-color",c[1]);
    g.append("circle").attr("cx",cx).attr("cy",cy+9).attr("r",53).attr("fill","#3a3a3a").attr("fill-opacity",.65).attr("filter","url(#blur)");
    g.append("circle").attr("cx",cx).attr("cy",cy).attr("r",53).attr("fill",`url(#nd${n})`);
    g.append("ellipse").attr("cx",cx).attr("cy",cy-30).attr("rx",30).attr("ry",17).attr("fill","url(#gloss)").attr("filter","url(#blur2)").attr("opacity",.95);
    txt(svg,n,gLabelXY[n][0],gLabelXY[n][1],36,{base:"central"}).attr("fill","#222");
  });
  [[2969,1090,3001,1173],[3210,1219,3157,1292],[2963,1441,3021,1510]].forEach(d=>{
    const [x1,y1,x2,y2]=d, a=Math.atan2(y2-y1,x2-x1), ca=Math.cos(a), sa=Math.sin(a);
    const hl=46, hw=23, sw=6.5;
    const P=(l,w)=>[x2-ca*l-sa*w, y2-sa*l+ca*w];
    const L=Math.hypot(x2-x1,y2-y1);
    svg.append("path").attr("d",ln([P(0,0),P(hl,hw),P(hl-6,sw),P(L,sw),P(L,-sw),P(hl-6,-sw),P(hl,-hw)])+"Z").attr("fill","#66b0ff");
  });
})();

/* ---- H / I ---- */
function km(o){
  const g=svg.append("g");
  const x=d3.scaleLinear().domain([0,130]).range([o.x0,o.x0+130*o.ux]);
  const y=d3.scaleLinear().domain([0,1]).range([o.y0,o.y1]);
  const step=d3.line().x(d=>x(d[0])).y(d=>y(d[1])).curve(d3.curveStepAfter);
  const cens=(data,c)=>g.append("g").selectAll("line").data(data).join("line")
    .attr("x1",d=>x(d[0])).attr("x2",d=>x(d[0])).attr("y1",d=>y(d[1])).attr("y2",d=>y(d[1])-11).attr("stroke",c).attr("stroke-width",6);
  g.append("path").attr("d",step(o.ko)).attr("fill","none").attr("stroke","#111").attr("stroke-width",7.5);
  cens(o.koC,"#111");
  g.append("path").attr("d",step(o.wt)).attr("fill","none").attr("stroke","#f40a10").attr("stroke-width",7.5);
  cens(o.wtC,"#f40a10");
  const ax=g.append("g").attr("transform",`translate(0,${y(0)})`).call(d3.axisBottom(x).tickValues([0,20,40,60,80,100,120]).tickSize(16).tickSizeOuter(0).tickPadding(18));
  const ay=g.append("g").attr("transform",`translate(${x(0)},0)`).call(d3.axisLeft(y).tickValues([0,.5,1]).tickFormat(d3.format(".1f")).tickSize(15).tickSizeOuter(0).tickPadding(6));
  styleAxis(ax,38,6); styleAxis(ay,38,6);
  g.append("line").attr("x1",x(0)).attr("x2",x(0)).attr("y1",o.topY).attr("y2",y(0)).attr("stroke","#000").attr("stroke-width",6);
  txt(svg,o.title,o.tx,o.ty,66.5,{anchor:"middle",base:"central",bold:1});
  txt(svg,"Survival probability",o.ylx,o.yly,46.5,{anchor:"middle",base:"central",bold:1,rot:-90});
  txt(svg,"Time (months)",o.xlx,o.xly,41,{anchor:"middle",base:"central",bold:1});
  o.legend.forEach(l=>{
    svg.append("line").attr("x1",l.x1).attr("x2",l.x2).attr("y1",l.y).attr("y2",l.y).attr("stroke",l.c).attr("stroke-width",9);
    svg.append("line").attr("x1",(l.x1+l.x2)/2).attr("x2",(l.x1+l.x2)/2).attr("y1",l.y).attr("y2",l.y-11).attr("stroke",l.c).attr("stroke-width",6);
    txt(svg,l.t,o.lgR,l.y,41,{anchor:"end",base:"central",bold:1});
  });
  const p=svg.append("text").attr("x",o.lgR).attr("y",o.pY).attr("text-anchor","end").attr("dominant-baseline","central").attr("font-size",41).attr("font-weight","bold");
  p.append("tspan").attr("font-style","italic").text("p");
  p.append("tspan").text("="+o.p);
}
km({x0:1834,ux:6.125,y0:3009,y1:2335,topY:2265,ko:hKo,wt:hWt,koC:hKoCens,wtC:hWtCens,title:"Overall Survival",tx:2228,ty:2211,ylx:1716,yly:2638,xlx:2231,xly:3113,lgR:2598,
  legend:[{x1:2057,x2:2109,y:2333,c:"#111",t:"KO EV signature (n=67)"},{x1:2052,x2:2105,y:2399,c:"#f40a10",t:"WT EV signature (n=67)"}],pY:2468,p:"0.0470"});
km({x0:2808,ux:6.12,y0:3015,y1:2340,topY:2271,ko:iKo,wt:iWt,koC:iKoCens,wtC:iWtCens,title:"Disease Free Survival",tx:3212,ty:2215,ylx:2693,yly:2642,xlx:3205,xly:3118,lgR:3530,
  legend:[{x1:2991,x2:3042,y:2815,c:"#111",t:"KO EV signature (n=43)"},{x1:2986,x2:3038,y:2879,c:"#f40a10",t:"WT EV signature (n=39)"}],pY:2944,p:"0.0336"});
</script></body></html>
